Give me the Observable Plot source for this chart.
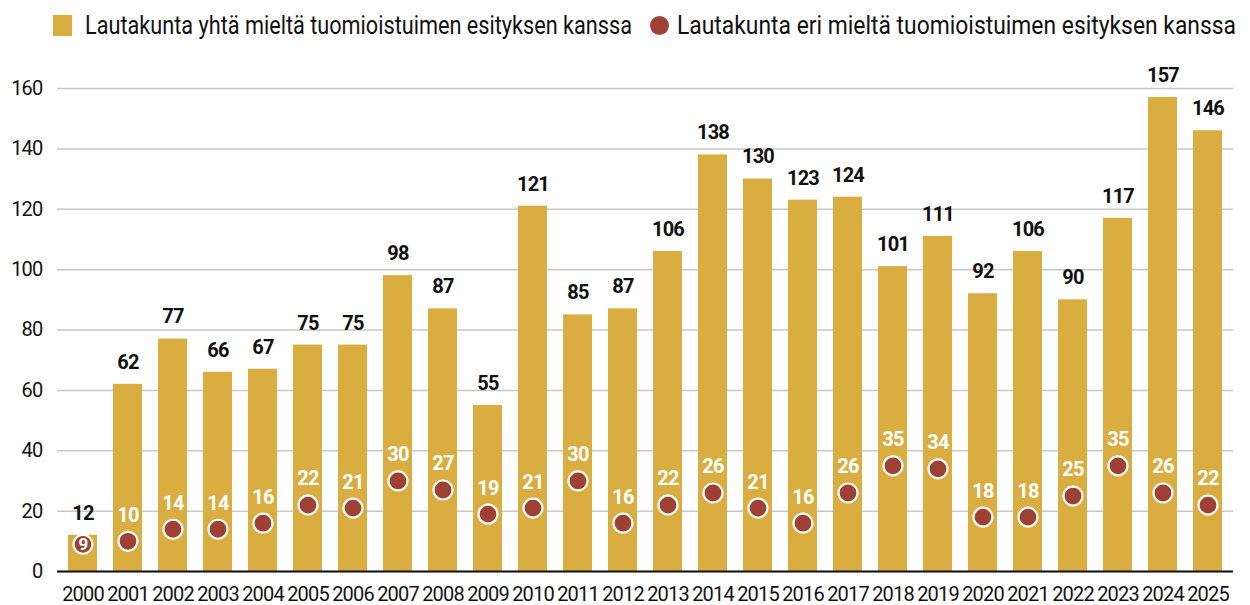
<!DOCTYPE html>
<html>
<head>
<meta charset="utf-8">
<script src="https://cdn.jsdelivr.net/npm/d3@7"></script>
<script src="https://cdn.jsdelivr.net/npm/@observablehq/plot@0.6"></script>
<style>
  html, body { margin: 0; padding: 0; background: #fff; }
  body { width: 1250px; height: 605px; overflow: hidden; font-family: Roboto, "Noto Sans", sans-serif; }
  #legend { position: relative; height: 50px; font-size: 26px; color: #111; white-space: nowrap; }
  .sw { position: absolute; left: 53px; top: 15px; width: 19px; height: 21px; }
  .dot { position: absolute; left: 650px; top: 16px; width: 19px; height: 19px; border-radius: 50%; }
  .lt { position: absolute; top: 9px; line-height: 32px; transform-origin: 0 50%; display: inline-block; }
  svg { display: block; }
</style>
</head>
<body>
<div id="legend"></div>
<div id="chart"></div>
<script>
const years = ["2000","2001","2002","2003","2004","2005","2006","2007","2008","2009","2010","2011","2012","2013","2014","2015","2016","2017","2018","2019","2020","2021","2022","2023","2024","2025"];
const agree = [12,62,77,66,67,75,75,98,87,55,121,85,87,106,138,130,123,124,101,111,92,106,90,117,157,146];
const disagree = [9,10,14,14,16,22,21,30,27,19,21,30,16,22,26,21,16,26,35,34,18,18,25,35,26,22];
const seriesNames = ["Lautakunta yhtä mieltä tuomioistuimen esityksen kanssa", "Lautakunta eri mieltä tuomioistuimen esityksen kanssa"];
const yTicks = [0,20,40,60,80,100,120,140,160];

const gold = "#d9ad3f";
const red = "#9e4134";

const data = years.map((y, i) => ({year: y, agree: agree[i], disagree: disagree[i]}));
const fits = d => d.agree - d.disagree >= 8;

// legend (HTML, above the SVG)
const legend = document.getElementById("legend");
legend.innerHTML =
  `<div class="sw" style="background:${gold}"></div>` +
  `<span class="lt" id="l1" style="left:85px">${seriesNames[0]}</span>` +
  `<div class="dot" style="background:${red}"></div>` +
  `<span class="lt" id="l2" style="left:677px">${seriesNames[1]}</span>`;
[["l1", 547], ["l2", 559]].forEach(([id, w]) => {
  const el = document.getElementById(id);
  const actual = el.getBoundingClientRect().width;
  if (actual > 0) el.style.transform = `scaleX(${w / actual})`;
});

const chart = Plot.plot({
  width: 1250,
  height: 555,
  marginLeft: 57,
  marginRight: 17,
  marginTop: 38,
  marginBottom: 34,
  style: {fontFamily: "Roboto, sans-serif", fontSize: "20px", color: "#111", background: "#fff", letterSpacing: "-0.8px"},
  x: {domain: years, paddingInner: 0.36, paddingOuter: 0.18, label: null},
  y: {domain: [0, 160], label: null},
  marks: [
    Plot.gridY(yTicks, {stroke: "#c8c8c8", strokeOpacity: 1, strokeWidth: 1.5}),
    Plot.axisY({ticks: yTicks, tickSize: 0, tickPadding: 15, label: null, fontSize: 20}),
    Plot.axisX({tickSize: 0, tickPadding: 15, label: null, fontSize: 20}),
    Plot.barY(data, {x: "year", y: "agree", fill: gold}),
    Plot.ruleY([0], {stroke: "#111", strokeWidth: 2}),
    Plot.text(data, {x: "year", y: "agree", text: d => String(d.agree), dy: -22, fontWeight: "bold", fontSize: 20, fill: "#111"}),
    Plot.dot(data, {x: "year", y: "disagree", r: 9.5, fill: red, stroke: "#fff", strokeWidth: 2.2}),
    Plot.text(data.filter(fits), {x: "year", y: "disagree", text: d => String(d.disagree), dy: -26, fontWeight: "bold", fontSize: 20, fill: "#fff"}),
    Plot.text(data.filter(d => !fits(d)), {x: "year", y: "disagree", text: d => String(d.disagree), fontWeight: "bold", fontSize: 17, fill: "#fff"})
  ]
});
document.getElementById("chart").appendChild(chart);
</script>
</body>
</html>
